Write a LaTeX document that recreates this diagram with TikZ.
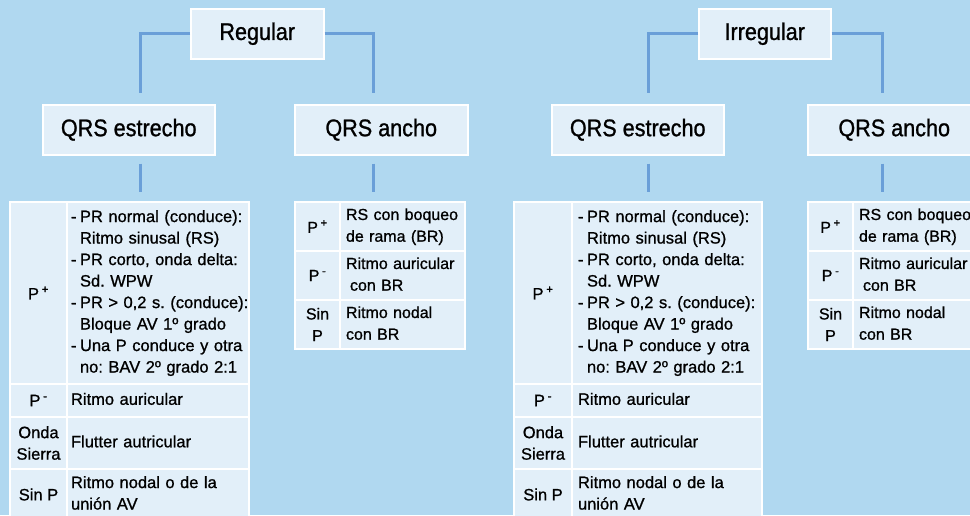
\documentclass[tikz,border=0pt]{standalone}
\usepackage{fontspec}
\setmainfont{Liberation Sans}[FakeBold=0.9]
\newfontfamily\hdrfont{Liberation Sans}[FakeStretch=0.9,FakeBold=1.0]
\usetikzlibrary{calc}
\definecolor{bgblue}{HTML}{B0D8F0}
\definecolor{boxfill}{HTML}{E2EFF9}
\definecolor{lineblue}{HTML}{6A9FD8}
\frenchspacing
\newcommand\tabfont{\fontsize{16.5}{21.5}\selectfont}
\newcommand\smfont{\fontsize{16}{21.7}\selectfont}
\newcommand\rl[1]{\begin{tabular}{@{}l@{}}#1\end{tabular}}
\tikzset{
  hdr/.style={draw=white, line width=1.5pt, fill=boxfill, anchor=north west,
    inner sep=0pt, minimum height=50pt, text=black,
    font=\hdrfont\fontsize{24}{28}\selectfont},
  lcell/.style={draw=white, line width=2pt, fill=boxfill, anchor=north west,
    inner sep=0pt, align=center, text=black, font=\tabfont},
  rcell/.style={draw=white, line width=2pt, fill=boxfill, anchor=north west,
    inner ysep=0pt, inner xsep=4pt, align=left, text=black, font=\tabfont},
  srcell/.style={rcell, inner xsep=6pt, text width=113pt, minimum height=49pt, font=\smfont},
  slcell/.style={lcell, minimum width=45pt, minimum height=49pt, font=\smfont},
  conn/.style={draw=lineblue, line width=3pt},
}
\begin{document}
\begin{tikzpicture}[x=1pt,y=-1pt]
\useasboundingbox (0,0) rectangle (970,515);
\fill[bgblue] (0,0) rectangle (970,515);
\clip (0,0) rectangle (970,515);

% connector x positions
\coordinate (lxA) at (140,0);
\coordinate (lxB) at (373,0);
\coordinate (lxC) at (648,0);
\coordinate (lxD) at (882,0);

% header boxes
\node[hdr, minimum width=133pt] (reg) at (190,8) {Regular};
\node[hdr, minimum width=172pt] (estA) at (42,104) {QRS estrecho};
\node[hdr, minimum width=173pt] (ancA) at (294,104) {QRS ancho};
\node[hdr, minimum width=132pt] (irr) at (698,8) {Irregular};
\node[hdr, minimum width=172pt] (estB) at (551,104) {QRS estrecho};
\node[hdr, minimum width=173pt] (ancB) at (807,104) {QRS ancho};

% ---------- left big table ----------
\node[lcell, minimum width=57pt, minimum height=182pt] (a1l) at (9,201) {P\,\textsuperscript{+}};
\node[rcell, text width=174pt, minimum height=182pt] (a1r) at (66,201) {%
\begin{tabular}{@{}l@{\hspace{3.5pt}}l@{}}
-&PR normal (conduce):\\
&Ritmo sinusal (RS)\\
-&PR corto, onda delta:\\
&Sd. WPW\\
-&PR > 0,2 s. (conduce):\\
&Bloque AV 1º grado\\
-&Una P conduce y otra\\
&no: BAV 2º grado 2:1
\end{tabular}};
\node[lcell, minimum width=57pt, minimum height=33pt] (a2l) at (9,383) {P\,\textsuperscript{-}};
\node[rcell, text width=174pt, minimum height=33pt] (a2r) at (66,383) {\rl{Ritmo auricular}};
\node[lcell, minimum width=57pt, minimum height=52pt] (a3l) at (9,416) {Onda\\Sierra};
\node[rcell, text width=174pt, minimum height=52pt] (a3r) at (66,416) {\rl{Flutter autricular}};
\node[lcell, minimum width=57pt, minimum height=51pt] (a4l) at (9,468) {Sin P};
\node[rcell, text width=174pt, minimum height=51pt] (a4r) at (66,468) {\rl{Ritmo nodal o de la\\unión AV}};

% ---------- left small table ----------
\node[slcell] (b1l) at (294,201) {P\,\textsuperscript{+}};
\node[srcell] (b1r) at (339,201) {\rl{RS con boqueo\\de rama (BR)}};
\node[slcell] (b2l) at (294,250) {P\,\textsuperscript{-}};
\node[srcell] (b2r) at (339,250) {\rl{Ritmo auricular\\\hspace*{0.25em}con BR}};
\node[slcell] (b3l) at (294,299) {Sin\\P};
\node[srcell] (b3r) at (339,299) {\rl{Ritmo nodal\\con BR}};

% ---------- right big table ----------
\node[lcell, minimum width=58pt, minimum height=182pt] (c1l) at (513,201) {P\,\textsuperscript{+}};
\node[rcell, inner xsep=6pt, text width=178pt, minimum height=182pt] (c1r) at (571,201) {%
\begin{tabular}{@{}l@{\hspace{3.5pt}}l@{}}
-&PR normal (conduce):\\
&Ritmo sinusal (RS)\\
-&PR corto, onda delta:\\
&Sd. WPW\\
-&PR > 0,2 s. (conduce):\\
&Bloque AV 1º grado\\
-&Una P conduce y otra\\
&no: BAV 2º grado 2:1
\end{tabular}};
\node[lcell, minimum width=58pt, minimum height=33pt] (c2l) at (513,383) {P\,\textsuperscript{-}};
\node[rcell, inner xsep=6pt, text width=178pt, minimum height=33pt] (c2r) at (571,383) {\rl{Ritmo auricular}};
\node[lcell, minimum width=58pt, minimum height=52pt] (c3l) at (513,416) {Onda\\Sierra};
\node[rcell, inner xsep=6pt, text width=178pt, minimum height=52pt] (c3r) at (571,416) {\rl{Flutter autricular}};
\node[lcell, minimum width=58pt, minimum height=51pt] (c4l) at (513,468) {Sin P};
\node[rcell, inner xsep=6pt, text width=178pt, minimum height=51pt] (c4r) at (571,468) {\rl{Ritmo nodal o de la\\unión AV}};

% ---------- right small table ----------
\node[slcell] (d1l) at (807,201) {P\,\textsuperscript{+}};
\node[srcell] (d1r) at (852,201) {\rl{RS con boqueo\\de rama (BR)}};
\node[slcell] (d2l) at (807,250) {P\,\textsuperscript{-}};
\node[srcell] (d2r) at (852,250) {\rl{Ritmo auricular\\\hspace*{0.25em}con BR}};
\node[slcell] (d3l) at (807,299) {Sin\\P};
\node[srcell] (d3r) at (852,299) {\rl{Ritmo nodal\\con BR}};

% ---------- connectors ----------
\draw[conn] (reg.west) -| ($(estA.north -| lxA)+(0,-11)$);
\draw[conn] (reg.east) -| ($(ancA.north -| lxB)+(0,-11)$);
\draw[conn] (irr.west) -| ($(estB.north -| lxC)+(0,-11)$);
\draw[conn] (irr.east) -| ($(ancB.north -| lxD)+(0,-11)$);
\draw[conn] ($(estA.south -| lxA)+(0,8)$) -- ($(a1r.north -| lxA)+(0,-9)$);
\draw[conn] ($(ancA.south -| lxB)+(0,8)$) -- ($(b1r.north -| lxB)+(0,-9)$);
\draw[conn] ($(estB.south -| lxC)+(0,8)$) -- ($(c1r.north -| lxC)+(0,-9)$);
\draw[conn] ($(ancB.south -| lxD)+(0,8)$) -- ($(d1r.north -| lxD)+(0,-9)$);
\end{tikzpicture}
\end{document}
